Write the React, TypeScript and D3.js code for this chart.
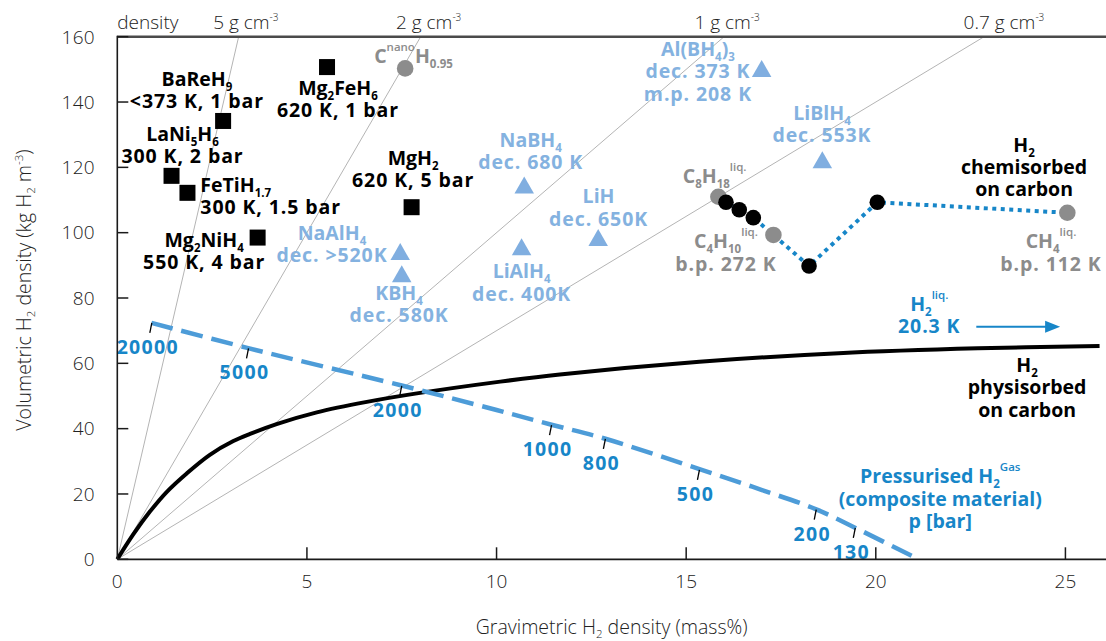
import React from 'react';
import * as d3 from 'd3';

const W = 1106;
const H = 641;

// ---- axes ----
const xTicks = [0, 5, 10, 15, 20, 25];
const yTicks = [0, 20, 40, 60, 80, 100, 120, 140, 160];

// ---- density reference lines (g cm^-3) ----
const densities = [5, 2, 1, 0.7];
const densityLabels = ['5 g cm^{-3}', '2 g cm^{-3}', '1 g cm^{-3}', '0.7 g cm^{-3}'];
const densityLabelGrav = [3.39, 8.21, 16.08, 23.38];

// ---- metal hydrides (squares) ----
const metalNames = ['BaReH9', 'LaNi5H6', 'FeTiH1.7', 'Mg2NiH4', 'Mg2FeH6', 'MgH2'];
const metalGrav = [2.79, 1.43, 1.85, 3.7, 5.53, 7.76];
const metalVol = [134.2, 117.4, 112.2, 98.5, 150.7, 107.8];

// ---- complex hydrides (triangles) ----
const complexNames = ['NaAlH4', 'KBH4', 'NaBH4', 'LiAlH4', 'LiH', 'Al(BH4)3', 'LiBH4'];
const complexGrav = [7.46, 7.5, 10.73, 10.66, 12.68, 16.99, 18.59];
const complexVol = [94.2, 87.4, 114.6, 95.7, 98.5, 150.3, 122.3];

// ---- hydrocarbons (grey circles) ----
const hydrocarbonNames = ['CnanoH0.95', 'C8H18', 'C4H10', 'CH4'];
const hydrocarbonGrav = [7.59, 15.85, 17.3, 25.05];
const hydrocarbonVol = [150.3, 111.0, 99.3, 106.1];

// ---- chemisorbed on carbon (black circles) ----
const chemiGrav = [16.05, 16.4, 16.77, 18.24, 20.04];
const chemiVol = [109.3, 107.0, 104.6, 89.8, 109.3];

// dotted connecting path
const chemiPathGrav = [15.85, 16.05, 16.4, 16.77, 17.3, 18.24, 20.04, 25.05];
const chemiPathVol = [111.0, 109.3, 107.0, 104.6, 99.3, 89.8, 109.3, 106.1];

// ---- physisorbed on carbon (black curve) ----
const physiGrav = [0, 0.42, 0.86, 1.3, 1.83, 2.44, 3.06, 3.5, 4.2, 5.26, 6.58, 7.9, 10.1, 11.67, 15.35, 19.02, 22.69, 25.9];
const physiVol = [0, 7.6, 14.6, 20.6, 26.3, 32.0, 36.2, 38.4, 41.4, 45.0, 48.2, 50.8, 54.4, 56.6, 60.5, 63.1, 64.6, 65.3];

// ---- pressurised gas (dashed curve) ----
const gasGrav = [0.9, 3.4, 7.5, 10.0, 11.45, 12.87, 15.35, 17.0, 18.43, 19.5, 21.13];
const gasVol = [72.4, 64.8, 53.2, 45.7, 41.2, 36.9, 27.6, 21.2, 15.3, 9.4, 0];

const pressureLabels = ['20000', '5000', '2000', '1000', '800', '500', '200', '130'];
const pressureGrav = [0.91, 3.46, 7.5, 11.45, 12.87, 15.35, 18.43, 19.46];
const pressureVol = [72.4, 64.6, 53.1, 41.1, 36.9, 27.4, 15.2, 9.6];

// ---- liquid H2 arrow ----
const arrowGrav = [22.65, 24.86];
const arrowVol = 71.2;

// ---- text annotations (data coordinates) ----
const BLACK = '#000000';
const LBLUE = '#84b2e0';
const GREY = '#8c8c8c';
const BLUE = '#1786c8';

type Ann = { lines: string[]; gx: number; vy: number; anchor: 'start' | 'middle' | 'end'; color: string };
const annotations: Ann[] = [
  { lines: ['BaReH_9', '<373 K, 1 bar'], gx: 2.1, vy: 144.9, anchor: 'middle', color: BLACK },
  { lines: ['LaNi_5H_6', '300 K, 2 bar'], gx: 1.72, vy: 128.1, anchor: 'middle', color: BLACK },
  { lines: ['FeTiH_{1.7}', '300 K, 1.5 bar'], gx: 2.19, vy: 112.6, anchor: 'start', color: BLACK },
  { lines: ['Mg_2NiH_4', '550 K, 4 bar'], gx: 2.29, vy: 95.7, anchor: 'middle', color: BLACK },
  { lines: ['Mg_2FeH_6', '620 K, 1 bar'], gx: 5.82, vy: 142.2, anchor: 'middle', color: BLACK },
  { lines: ['MgH_2', '620 K, 5 bar'], gx: 7.8, vy: 120.7, anchor: 'middle', color: BLACK },
  { lines: ['H_2', 'chemisorbed', 'on carbon'], gx: 23.91, vy: 124.8, anchor: 'middle', color: BLACK },
  { lines: ['H_2', 'physisorbed', 'on carbon'], gx: 23.99, vy: 57.4, anchor: 'middle', color: BLACK },
  { lines: ['NaAlH_4', 'dec. >520K'], gx: 5.66, vy: 97.8, anchor: 'middle', color: LBLUE },
  { lines: ['KBH_4', 'dec. 580K'], gx: 7.43, vy: 79.4, anchor: 'middle', color: LBLUE },
  { lines: ['NaBH_4', 'dec. 680 K'], gx: 10.9, vy: 126.3, anchor: 'middle', color: LBLUE },
  { lines: ['LiAlH_4', 'dec. 400K'], gx: 10.66, vy: 86.0, anchor: 'middle', color: LBLUE },
  { lines: ['LiH', 'dec. 650K'], gx: 12.69, vy: 109.0, anchor: 'middle', color: LBLUE },
  { lines: ['Al(BH_4)_3', 'dec. 373 K', 'm.p. 208 K'], gx: 15.31, vy: 154.1, anchor: 'middle', color: LBLUE },
  { lines: ['LiBlH_4', 'dec. 553K'], gx: 18.58, vy: 134.5, anchor: 'middle', color: LBLUE },
  { lines: ['C^{nano}H_{0.95}'], gx: 7.81, vy: 152.0, anchor: 'middle', color: GREY },
  { lines: ['C_8H_{18}^{liq.}'], gx: 15.75, vy: 115.1, anchor: 'middle', color: GREY },
  { lines: ['C_4H_{10}^{liq.}', 'b.p. 272 K'], gx: 16.05, vy: 95.2, anchor: 'middle', color: GREY },
  { lines: ['CH_4^{liq.}', 'b.p. 112 K'], gx: 24.62, vy: 95.2, anchor: 'middle', color: GREY },
  { lines: ['H_2^{liq.}', '20.3 K'], gx: 21.41, vy: 76.0, anchor: 'middle', color: BLUE },
  { lines: ['Pressurised H_2^{Gas}', '(composite material)', 'p [bar]'], gx: 21.7, vy: 23.3, anchor: 'middle', color: BLUE },
];

// ---- layout ----
const X0 = 117.3;
const X1 = 1106;
const Y0 = 559.3;
const Y1 = 36.7;
const xScale = d3.scaleLinear().domain([0, 26.07]).range([X0, X1]);
const yScale = d3.scaleLinear().domain([0, 160]).range([Y0, Y1]);

const FONT = "'Open Sans', 'DejaVu Sans', sans-serif";

type Seg = { t: string; k: 'n' | 'sub' | 'sup' };
function parse(s: string): Seg[] {
  const out: Seg[] = [];
  let buf = '';
  let i = 0;
  const flush = () => {
    if (buf) out.push({ t: buf, k: 'n' });
    buf = '';
  };
  while (i < s.length) {
    const c = s[i];
    if (c === '_' || c === '^') {
      flush();
      let t = '';
      if (s[i + 1] === '{') {
        const j = s.indexOf('}', i + 2);
        t = s.slice(i + 2, j);
        i = j + 1;
      } else {
        t = s[i + 1];
        i += 2;
      }
      out.push({ t, k: c === '_' ? 'sub' : 'sup' });
    } else {
      buf += c;
      i++;
    }
  }
  flush();
  return out;
}

function Rich(props: {
  s: string; x: number; y: number; anchor?: string; size: number; weight?: number | string;
  fill: string; small: number; subShift: number; supShift: number; supWeight?: number | string;
  spacing?: number;
}) {
  const { s, x, y, anchor = 'start', size, weight = 400, fill, small, subShift, supShift, supWeight, spacing = 0 } = props;
  const segs = parse(s);
  let cur = 0;
  return (
    <text x={x} y={y} textAnchor={anchor as any} fontSize={size} fontWeight={weight as any} fill={fill}
      fontFamily={FONT} letterSpacing={spacing} style={{ whiteSpace: 'pre' }}>
      {segs.map((g, i) => {
        const target = g.k === 'sub' ? subShift : g.k === 'sup' ? -supShift : 0;
        const dy = target - cur;
        cur = target;
        return (
          <tspan key={i} dy={dy} fontSize={g.k === 'n' ? size : small}
            fontWeight={(g.k === 'sup' && supWeight !== undefined ? supWeight : weight) as any}>
            {g.t}
          </tspan>
        );
      })}
    </text>
  );
}

function trianglePath(cx: number, cy: number) {
  const w = 19.5;
  const h = 17;
  return `M${cx - w / 2},${cy + h / 2}L${cx + w / 2},${cy + h / 2}L${cx},${cy - h / 2}Z`;
}

export default function App() {
  const lineGen = d3.line<[number, number]>()
    .x((d) => xScale(d[0]))
    .y((d) => yScale(d[1]));

  const physi = d3.line<[number, number]>()
    .x((d) => xScale(d[0]))
    .y((d) => yScale(d[1]))
    .curve(d3.curveCatmullRom.alpha(0.5))(physiGrav.map((g, i) => [g, physiVol[i]] as [number, number]));

  const gas = d3.line<[number, number]>()
    .x((d) => xScale(d[0]))
    .y((d) => yScale(d[1]))
    .curve(d3.curveCatmullRom.alpha(0.5))(gasGrav.map((g, i) => [g, gasVol[i]] as [number, number]));

  const chemiPath = lineGen(chemiPathGrav.map((g, i) => [g, chemiPathVol[i]] as [number, number]));

  const axisColor = '#1a1a1a';
  const tickFont = 19;

  return (
    <svg width={W} height={H} style={{ position: 'absolute', left: 0, top: 0, background: '#fff' }}
      xmlns="http://www.w3.org/2000/svg">
      <rect x={0} y={0} width={W} height={H} fill="#fff" />
      <defs>
        <clipPath id="plot">
          <rect x={X0} y={Y1} width={X1 - X0} height={Y0 - Y1} />
        </clipPath>
      </defs>

      {/* density lines */}
      <g clipPath="url(#plot)">
        {densities.map((rho) => {
          const gTop = 160 / (10 * rho);
          return (
            <line key={rho} x1={xScale(0)} y1={yScale(0)} x2={xScale(gTop)} y2={yScale(160)}
              stroke="#b4b4b4" strokeWidth={1} />
          );
        })}
      </g>

      {/* top density labels */}
      <text x={X0} y={29} fontSize={tickFont} fontFamily={FONT} fontWeight={300} fill="#222">density</text>
      {densityLabels.map((l, i) => (
        <Rich key={l} s={l} x={xScale(densityLabelGrav[i])} y={29} anchor="middle" size={tickFont} weight={300}
          fill="#222" small={10} subShift={4} supShift={8} />
      ))}

      {/* physisorbed curve */}
      <path d={physi || ''} fill="none" stroke="#000" strokeWidth={4} strokeLinejoin="round" />

      {/* pressurised gas dashed curve */}
      <path d={gas || ''} fill="none" stroke="#4d9cd8" strokeWidth={4.5} strokeDasharray="22 9" />
      {pressureLabels.map((p, i) => {
        const px = xScale(pressureGrav[i]);
        const py = yScale(pressureVol[i]);
        return (
          <g key={p}>
            <line x1={px} y1={py} x2={px - 2} y2={py + 10} stroke="#000" strokeWidth={1.3} />
            <text x={px - 4} y={py + 31} textAnchor="middle" fontSize={19.5} fontWeight={700}
              fontFamily={FONT} fill={BLUE} letterSpacing={1.3}>{p}</text>
          </g>
        );
      })}

      {/* dotted chemisorbed path */}
      <path d={chemiPath || ''} fill="none" stroke="#1786c8" strokeWidth={4} strokeDasharray="4 4.5" />

      {/* hydrocarbons */}
      {hydrocarbonNames.map((n, i) => (
        <circle key={n} cx={xScale(hydrocarbonGrav[i])} cy={yScale(hydrocarbonVol[i])} r={8.3} fill="#8c8c8c" />
      ))}

      {/* chemisorbed points */}
      {chemiGrav.map((g, i) => (
        <circle key={i} cx={xScale(g)} cy={yScale(chemiVol[i])} r={7.8} fill="#000" />
      ))}

      {/* metal hydrides */}
      {metalNames.map((n, i) => (
        <rect key={n} x={xScale(metalGrav[i]) - 8} y={yScale(metalVol[i]) - 8} width={16} height={16} fill="#000" />
      ))}

      {/* complex hydrides */}
      {complexNames.map((n, i) => (
        <path key={n} d={trianglePath(xScale(complexGrav[i]), yScale(complexVol[i]))} fill="#80aee0" />
      ))}

      {/* liquid H2 arrow */}
      <line x1={xScale(arrowGrav[0])} y1={yScale(arrowVol)} x2={xScale(arrowGrav[1]) - 12} y2={yScale(arrowVol)}
        stroke={BLUE} strokeWidth={2} />
      <path d={`M${xScale(arrowGrav[1])},${yScale(arrowVol)}l-15,-6l0,12z`} fill={BLUE} />

      {/* annotations */}
      {annotations.map((a, k) => (
        <g key={k}>
          {a.lines.map((l, j) => (
            <Rich key={j} s={l} x={xScale(a.gx)} y={yScale(a.vy) + j * 22.4} anchor={a.anchor} size={19.5}
              weight={700} fill={a.color} small={11.5} subShift={5} supShift={12} supWeight={600}
              spacing={j > 0 && /\d/.test(l) ? 0.9 : 0} />
          ))}
        </g>
      ))}

      {/* axes */}
      <line x1={X0} y1={Y1} x2={X1} y2={Y1} stroke="#4a4a4a" strokeWidth={2.5} />
      <line x1={X0} y1={Y1 - 1} x2={X0} y2={Y0} stroke={axisColor} strokeWidth={1.6} />
      <line x1={X0} y1={Y0} x2={X1} y2={Y0} stroke={axisColor} strokeWidth={1.8} />
      {yTicks.map((t) => (
        <g key={t}>
          <line x1={X0} x2={X0 + 11} y1={yScale(t)} y2={yScale(t)} stroke={axisColor} strokeWidth={1.5} />
          <text x={95} y={yScale(t) + 6.8} textAnchor="end" fontSize={tickFont} fontWeight={300}
            fontFamily={FONT} fill="#222" letterSpacing={0.3}>{t}</text>
        </g>
      ))}
      {xTicks.map((t) => (
        <g key={t}>
          {t > 0 && (
            <line x1={xScale(t)} x2={xScale(t)} y1={Y0} y2={Y0 - 12} stroke={axisColor} strokeWidth={1.5} />
          )}
          <text x={xScale(t)} y={588} textAnchor="middle" fontSize={tickFont} fontWeight={300}
            fontFamily={FONT} fill="#222">{t}</text>
        </g>
      ))}

      {/* axis titles */}
      <Rich s="Gravimetric H_2 density (mass%)" x={(X0 + X1) / 2} y={634} anchor="middle" size={19.5} weight={300}
        fill="#222" small={11.5} subShift={4} supShift={8} />
      <g transform={`translate(31, ${(Y0 + Y1) / 2 - 8}) rotate(-90)`}>
        <Rich s="Volumetric H_2 density (kg H_2 m^{-3})" x={0} y={0} anchor="middle" size={19.5} weight={300}
          fill="#222" small={11.5} subShift={4} supShift={8} />
      </g>
    </svg>
  );
}
